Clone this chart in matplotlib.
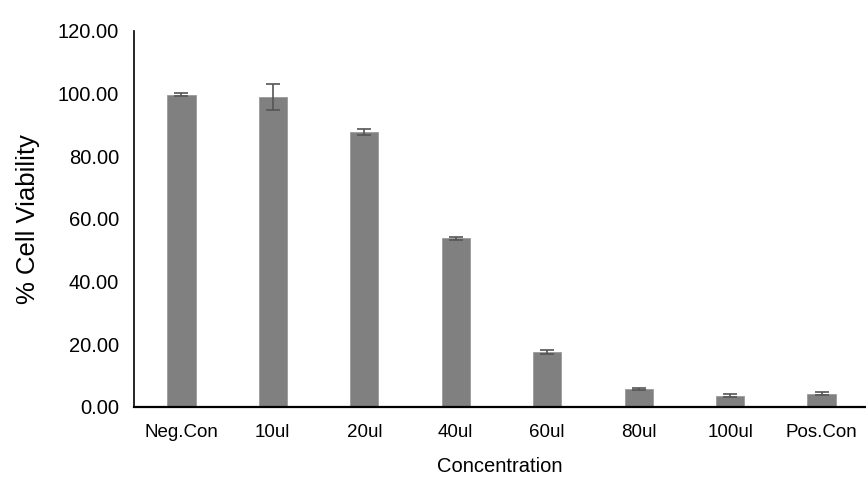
import numpy as np
import matplotlib.pyplot as plt

plt.rcParams['font.family'] = ['Liberation Sans', 'DejaVu Sans']

# cell viability per concentration
labels = ["Neg.Con", "10ul", "20ul", "40ul", "60ul", "80ul", "100ul", "Pos.Con"]
viability = [99.6, 98.9, 87.8, 53.8, 17.6, 5.6, 3.6, 4.3]
errors = [0.5, 4.2, 1.0, 0.5, 0.7, 0.3, 0.5, 0.4]

fig = plt.figure(figsize=(8.66, 5.04), dpi=100)
ax = fig.add_axes([0.155, 0.1925, 0.845, 0.746])

x = np.arange(len(labels))
ax.bar(x, viability, width=0.31, color="#808080", edgecolor="#9a9a9a", linewidth=0.6,
       yerr=errors, capsize=5, error_kw=dict(ecolor="#555555", elinewidth=1.2, capthick=1.2))

ax.set_xlim(-0.515, len(labels) - 0.515)
ax.set_ylim(0, 120)
ax.set_yticks(np.arange(0, 121, 20))
ax.set_yticklabels([f"{v:.2f}" for v in np.arange(0, 121, 20)])
ax.set_xticks(x)
ax.set_xticklabels(labels)
ax.tick_params(axis='x', length=0, labelsize=13.5, pad=12)
ax.tick_params(axis='y', length=0, labelsize=14.5, pad=11)

ax.spines['top'].set_visible(False)
ax.spines['right'].set_visible(False)
ax.spines['left'].set_linewidth(1.2)
ax.spines['bottom'].set_linewidth(1.6)

ax.set_xlabel("Concentration", fontsize=14.5, labelpad=12)
ax.set_ylabel("% Cell Viability", fontsize=18.5, labelpad=13)

fig.savefig("out.png", dpi=100)
